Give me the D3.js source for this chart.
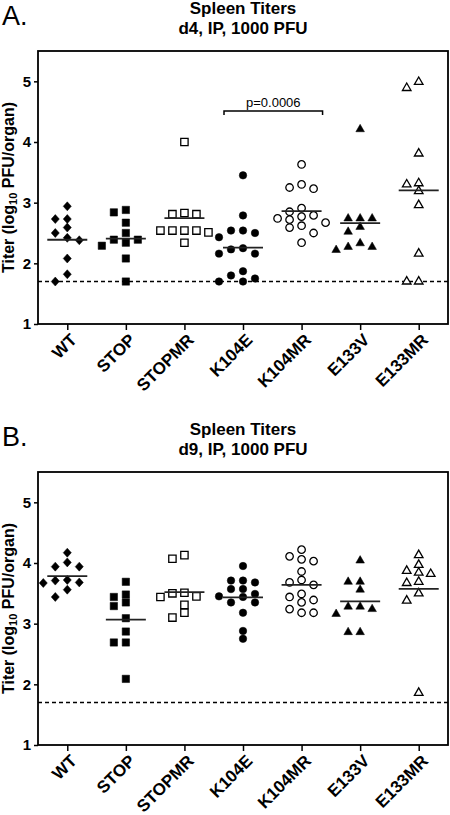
<!DOCTYPE html>
<html>
<head>
<meta charset="utf-8">
<script src="https://cdn.jsdelivr.net/npm/d3@7"></script>
<style>
html,body{margin:0;padding:0;background:#fff;}
svg{display:block;font-family:"Liberation Sans",Arial,Helvetica,sans-serif;}
</style>
</head>
<body>
<svg id="chart" width="450" height="815"></svg>
<script>
// ---------------- DATA ----------------
const categories = ["WT", "STOP", "STOPMR", "K104E", "K104MR", "E133V", "E133MR"];
const yTicks = [1, 2, 3, 4, 5];
const detectionLimit = 1.7;
const panelLetters = ["A.", "B."];
const panelTitles = ["Spleen Titers", "Spleen Titers"];
const panelSubtitles = ["d4, IP, 1000 PFU", "d9, IP, 1000 PFU"];

// Panel A: day 4 titers (log10 PFU/organ)
const d4WT     = [2.94, 2.73, 2.73, 2.59, 2.50, 2.42, 2.38, 2.08, 1.82, 1.70];
const d4STOP   = [2.88, 2.84, 2.67, 2.50, 2.39, 2.39, 2.34, 2.29, 2.08, 1.70];
const d4STOPMR = [4.00, 2.83, 2.81, 2.81, 2.54, 2.54, 2.54, 2.54, 2.51, 2.34];
const d4K104E  = [3.45, 2.79, 2.54, 2.54, 2.50, 2.43, 2.25, 2.23, 2.16, 2.16, 1.87, 1.80, 1.75, 1.70, 1.70];
const d4K104MR = [3.63, 3.30, 3.25, 3.23, 2.91, 2.85, 2.79, 2.77, 2.74, 2.72, 2.67, 2.62, 2.59, 2.50, 2.34];
const d4E133V  = [4.21, 2.74, 2.74, 2.74, 2.60, 2.52, 2.33, 2.27, 2.27, 2.22];
const d4E133MR = [4.99, 4.89, 3.81, 3.32, 3.30, 3.19, 2.96, 2.16, 1.70, 1.70];

// Panel B: day 9 titers (log10 PFU/organ)
const d9WT     = [4.17, 4.01, 3.94, 3.94, 3.72, 3.71, 3.68, 3.67, 3.56, 3.44];
const d9STOP   = [3.69, 3.48, 3.44, 3.35, 3.29, 3.09, 2.87, 2.69, 2.69, 2.09];
const d9STOPMR = [4.13, 4.07, 3.51, 3.50, 3.45, 3.44, 3.31, 3.18, 3.10];
const d9K104E  = [3.95, 3.71, 3.71, 3.68, 3.57, 3.57, 3.49, 3.45, 3.44, 3.35, 3.35, 3.18, 2.88, 2.75];
const d9K104MR = [4.22, 4.11, 4.06, 4.03, 3.86, 3.72, 3.68, 3.64, 3.49, 3.44, 3.39, 3.35, 3.24, 3.18, 3.18];
const d9E133V  = [4.04, 3.69, 3.69, 3.56, 3.28, 3.28, 3.24, 3.16, 2.86, 2.86];
const d9E133MR = [4.13, 3.97, 3.87, 3.84, 3.82, 3.69, 3.67, 3.50, 3.38, 1.86];

// significance annotation (panel A)
const pValueLabel = "p=0.0006";
const pValuePair = ["K104E", "K104MR"];
const pValueLevel = 4.51;

// ---------------- STYLE / LAYOUT ----------------
const panelSeries = [
  [d4WT, d4STOP, d4STOPMR, d4K104E, d4K104MR, d4E133V, d4E133MR],
  [d9WT, d9STOP, d9STOPMR, d9K104E, d9K104MR, d9E133V, d9E133MR]
];
const markerShape = ["diamond", "square", "square", "circle", "circle", "triangle", "triangle"];
const markerOpen  = [false, false, true, false, true, false, true];

const plotLeft = 38, plotRight = 448, plotTop = 51, plotBottom = 324;
const panelOffsets = [0, 421];
const FONT = '"Liberation Sans", Arial, Helvetica, sans-serif';

const svg = d3.select("#chart");

const x = d3.scalePoint().domain(categories).range([plotLeft, plotRight]).padding(0.5);
const y = d3.scaleLinear().domain([1, 5.5]).range([plotBottom, plotTop]);

const diamondType = {
  draw(ctx, size) {
    const h = Math.sqrt(size) * 0.6, w = h * 0.9;
    ctx.moveTo(0, -h); ctx.lineTo(w, 0); ctx.lineTo(0, h); ctx.lineTo(-w, 0); ctx.closePath();
  }
};
function symbolFor(shape) {
  if (shape === "circle") return d3.symbol().type(d3.symbolCircle).size(44)();
  if (shape === "square") return d3.symbol().type(d3.symbolSquare).size(54)();
  if (shape === "triangle") return d3.symbol().type(d3.symbolTriangle).size(32)();
  return d3.symbol().type(diamondType).size(56)();
}

// simple dodge layout: spread points with similar values horizontally
function dodge(values) {
  const order = values.map((v, i) => i).sort((a, b) => values[b] - values[a]);
  const cands = [0, -12, 12, -6, 6, -18, 18, -24, 24];
  const placed = [];
  const out = new Array(values.length);
  order.forEach(i => {
    const py = y(values[i]);
    for (const c of cands) {
      const hit = placed.some(p => Math.abs(p.dx - c) < 7.5 && Math.abs(p.py - py) < 7.5);
      if (!hit) { out[i] = c; placed.push({dx: c, py}); return; }
    }
    out[i] = 0; placed.push({dx: 0, py});
  });
  return out;
}

panelSeries.forEach((series, pi) => {
  const g = svg.append("g").attr("transform", `translate(0,${panelOffsets[pi]})`);
  const cx = (plotLeft + plotRight) / 2;

  // panel letter + titles
  g.append("text").attr("x", 2).attr("y", 25)
    .style("font-family", FONT).style("font-size", "27px").text(panelLetters[pi]);
  g.append("text").attr("x", cx).attr("y", 14).attr("text-anchor", "middle")
    .style("font-family", FONT).style("font-size", "17px").style("font-weight", "bold")
    .text(panelTitles[pi]);
  g.append("text").attr("x", cx).attr("y", 33.5).attr("text-anchor", "middle")
    .style("font-family", FONT).style("font-size", "17px").style("font-weight", "bold")
    .text(panelSubtitles[pi]);

  // y axis
  const ya = g.append("g").attr("transform", `translate(${plotLeft},0)`)
    .call(d3.axisLeft(y).tickValues(yTicks).tickFormat(d3.format("d")).tickSize(4).tickPadding(3));
  ya.select(".domain").remove();
  ya.selectAll(".tick line").attr("stroke", "#000").attr("stroke-width", 1.5);
  ya.selectAll(".tick text").style("font-family", FONT).style("font-size", "15px")
    .style("font-weight", "bold").attr("fill", "#000");

  // x axis
  const xa = g.append("g").attr("transform", `translate(0,${plotBottom})`)
    .call(d3.axisBottom(x).tickSize(6));
  xa.select(".domain").remove();
  xa.selectAll(".tick line").attr("stroke", "#000").attr("stroke-width", 1.5);
  xa.selectAll(".tick text")
    .attr("x", 0).attr("y", 0).attr("dy", null)
    .attr("transform", "translate(10,17) rotate(-45)")
    .style("text-anchor", "end")
    .style("font-family", FONT).style("font-size", "17px").style("font-weight", "bold")
    .attr("fill", "#000");

  // y axis title
  const yt = g.append("text")
    .attr("transform", `translate(14,${(plotTop + plotBottom) / 2}) rotate(-90)`)
    .attr("text-anchor", "middle")
    .style("font-family", FONT).style("font-size", "16px").style("font-weight", "bold");
  yt.append("tspan").text("Titer (log");
  yt.append("tspan").attr("dy", 3).style("font-size", "11px").text("10");
  yt.append("tspan").attr("dy", -3).text(" PFU/organ)");

  // frame
  g.append("rect").attr("x", plotLeft).attr("y", plotTop)
    .attr("width", plotRight - plotLeft).attr("height", plotBottom - plotTop)
    .attr("fill", "none").attr("stroke", "#000").attr("stroke-width", 1.8);

  // detection limit
  g.append("line").attr("x1", plotLeft).attr("x2", plotRight)
    .attr("y1", y(detectionLimit)).attr("y2", y(detectionLimit))
    .attr("stroke", "#000").attr("stroke-width", 1.6).attr("stroke-dasharray", "4,3");

  // points
  series.forEach((vals, ci) => {
    const cat = categories[ci];
    const offs = dodge(vals);
    const path = symbolFor(markerShape[ci]);
    g.append("g").selectAll("path").data(vals).join("path")
      .attr("d", path)
      .attr("transform", (d, i) => `translate(${x(cat) + offs[i]},${y(d)})`)
      .attr("fill", markerOpen[ci] ? "#fff" : "#000")
      .attr("stroke", "#000")
      .attr("stroke-width", markerOpen[ci] ? 1.3 : 0.5);
    // mean line
    const m = d3.mean(vals);
    g.append("line").attr("x1", x(cat) - 20).attr("x2", x(cat) + 20)
      .attr("y1", y(m)).attr("y2", y(m))
      .attr("stroke", "#222").attr("stroke-width", 1.8);
  });

  // p-value bracket (panel A only)
  if (pi === 0) {
    const x1 = x(pValuePair[0]) - 19, x2 = x(pValuePair[1]) + 21, by = y(pValueLevel);
    g.append("path")
      .attr("d", `M${x1},${by + 4}V${by}H${x2}V${by + 4}`)
      .attr("fill", "none").attr("stroke", "#000").attr("stroke-width", 1.5);
    g.append("text").attr("x", (x1 + x2) / 2).attr("y", by - 4).attr("text-anchor", "middle")
      .style("font-family", FONT).style("font-size", "13px").text(pValueLabel);
  }
});
</script>
</body>
</html>
